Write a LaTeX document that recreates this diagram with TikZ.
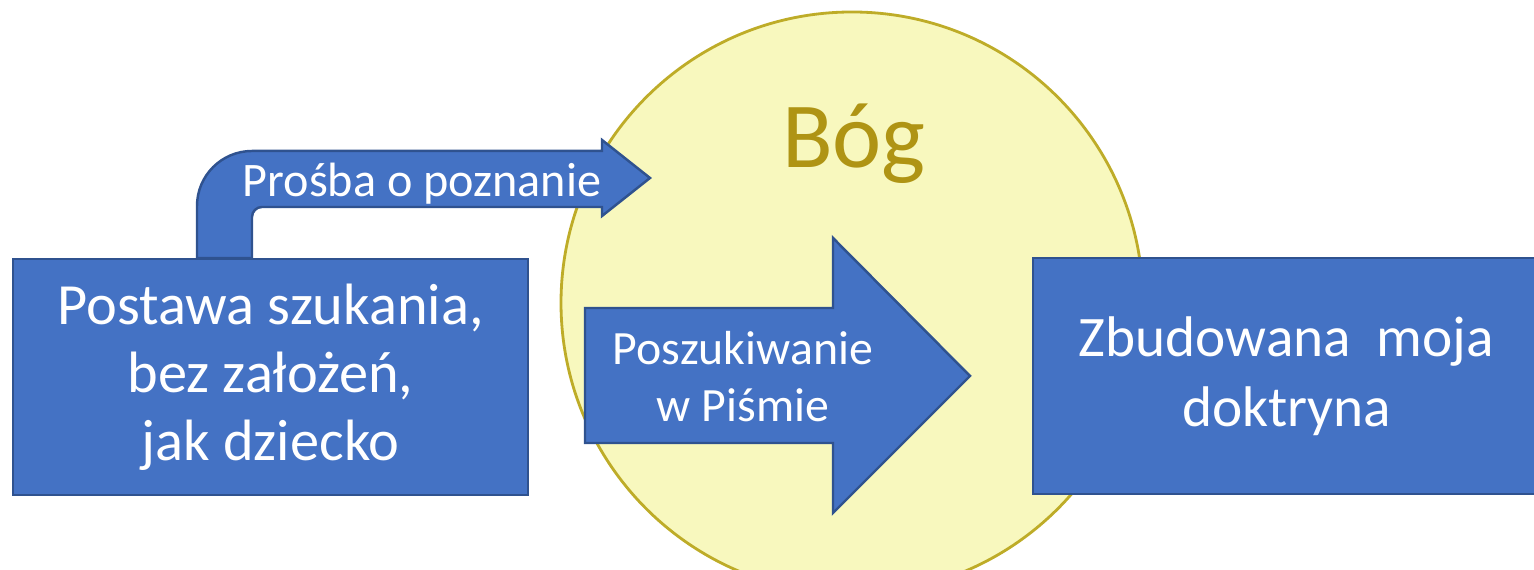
\documentclass[tikz,border=0pt]{standalone}
\usepackage{fontspec}
\setmainfont{Carlito}
\usetikzlibrary{positioning}

\definecolor{boxblue}{RGB}{68,114,196}
\definecolor{boxedge}{RGB}{47,82,143}
\definecolor{godfill}{RGB}{248,248,190}
\definecolor{godedge}{RGB}{190,172,40}
\definecolor{godtext}{RGB}{175,148,20}

\tikzset{
  bluebox/.style={fill=boxblue, draw=boxedge, line width=0.7pt, text=white,
    align=center, inner sep=0pt, minimum height=2.36cm},
  arrowlabel/.style={text=white, align=center, inner sep=0pt}
}

\begin{document}
\begin{tikzpicture}
\useasboundingbox (0,0) rectangle (15.34,5.70);
% circle
\filldraw[fill=godfill, draw=godedge, line width=0.8pt] (8.52,2.67) circle (2.91);
\node[text=godtext, font=\fontsize{26.5}{30}\selectfont, anchor=base] (god) at (8.54,4.02) {Bóg};
% boxes
\node[bluebox, minimum width=5.15cm, font=\fontsize{16.6}{19.3}\selectfont] (start) at (2.705,1.93) {Postawa szukania,\\bez założeń,\\jak dziecko};
\node[bluebox, minimum width=5.07cm, font=\fontsize{16.3}{19.8}\selectfont] (goal) at (12.865,1.94) {Zbudowana~~moja\\doktryna};
% bent arrow
\filldraw[fill=boxblue, draw=boxedge, line width=0.7pt]
  (1.97,3.12) -- (1.97,3.64) arc(180:90:0.55) -- (6.02,4.19) -- (6.02,4.30)
  -- (6.50,3.92) -- (6.02,3.54) -- (6.02,3.63) -- (2.62,3.63) arc(90:180:0.1)
  -- (2.52,3.12) -- cycle;
\node[arrowlabel, font=\fontsize{13.7}{16}\selectfont, anchor=base] (ask) at (4.22,3.73) {Prośba o poznanie};
% big arrow
\filldraw[fill=boxblue, draw=boxedge, line width=0.7pt]
  (5.85,1.27) -- (5.85,2.62) -- (8.33,2.62) -- (8.33,3.32) -- (9.70,1.94)
  -- (8.33,0.57) -- (8.33,1.27) -- cycle;
\node[arrowlabel, font=\fontsize{13.6}{16.2}\selectfont] (search) at (7.43,1.93) {Poszukiwanie\\w Piśmie};
\end{tikzpicture}
\end{document}
